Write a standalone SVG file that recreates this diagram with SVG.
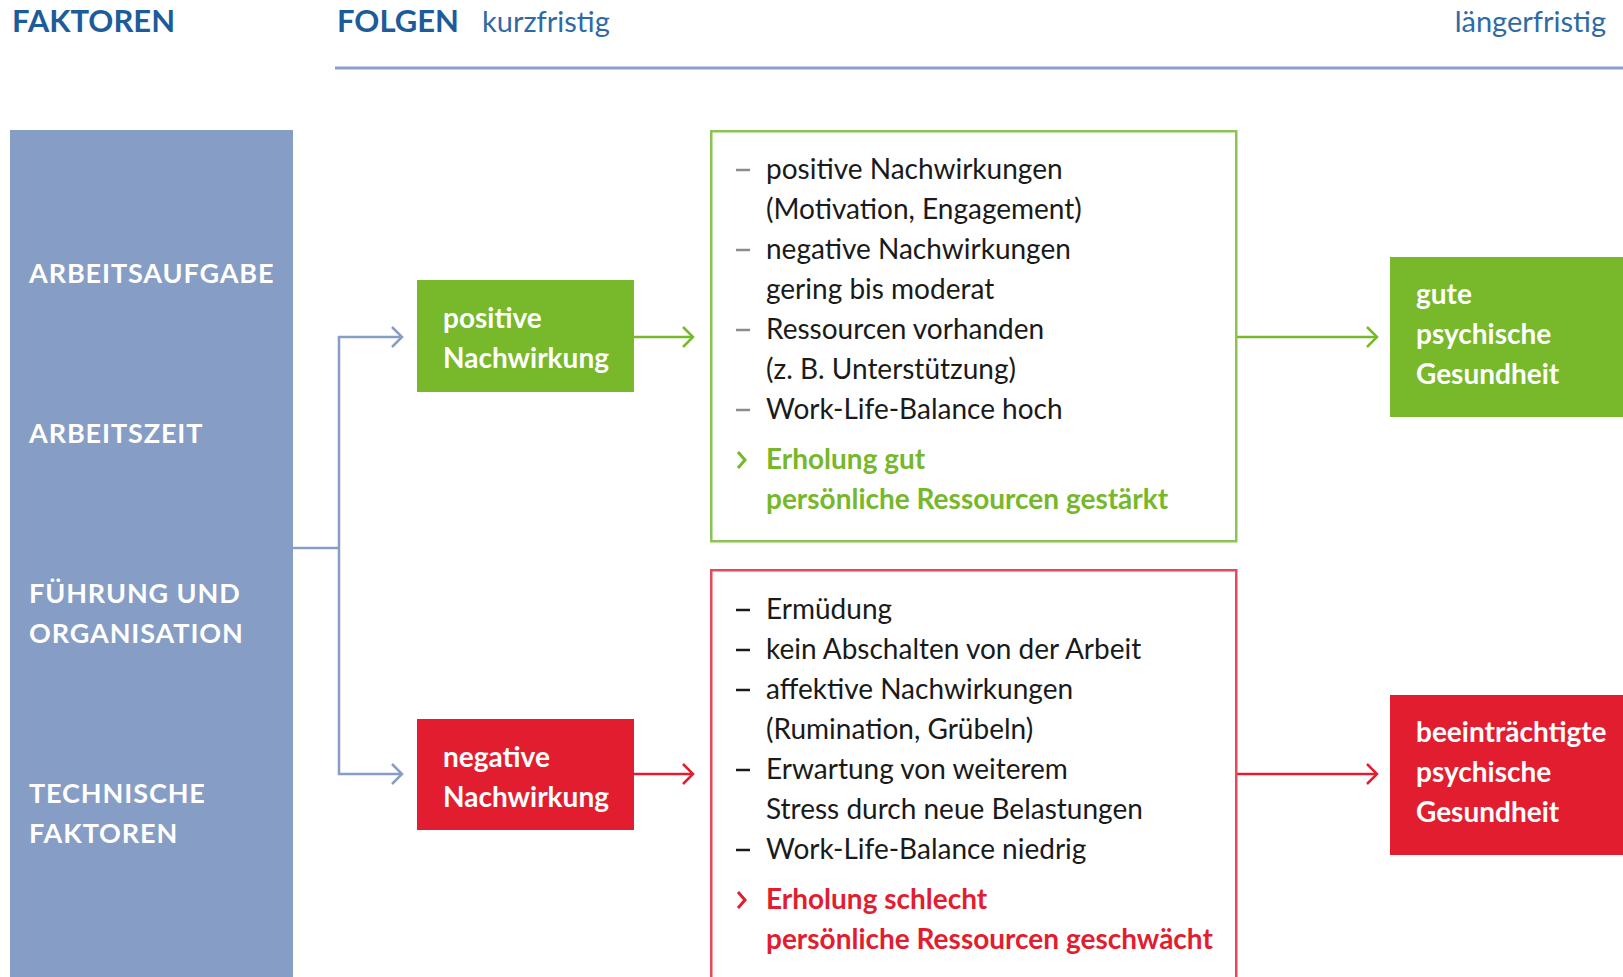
<svg xmlns="http://www.w3.org/2000/svg" width="1623" height="977" viewBox="0 0 1623 977">
<style>
text{font-family:Lato,"Open Sans","Liberation Sans",sans-serif}
.hd{font-size:31px;font-weight:bold;fill:#1d5c98}
.hs{font-size:29px;fill:#2f6aa6}
.pl{font-size:27px;font-weight:bold;fill:#ffffff;letter-spacing:0.9px}
.bx{font-size:28px;font-weight:bold;fill:#ffffff}
.li{font-size:28px;fill:#1a1a1a}
.dg{stroke:#8c8c8c;stroke-width:2.5}
.dr{stroke:#1a1a1a;stroke-width:2.5}
.gt{font-size:28px;font-weight:bold;fill:#76b82a}
.rt{font-size:28px;font-weight:bold;fill:#e31d30}
.cb{fill:none;stroke:#869dc6;stroke-width:2.5}
.cg{fill:none;stroke:#78b82b;stroke-width:2.5}
.cr{fill:none;stroke:#e31d30;stroke-width:2.5}
</style>
<defs>
<marker id="ab" viewBox="0 0 14 24" refX="12" refY="12" markerWidth="14" markerHeight="24" markerUnits="userSpaceOnUse" orient="auto"><path d="M2,2 L12,12 L2,22" fill="none" stroke="#869dc6" stroke-width="2.5"/></marker>
<marker id="ag" viewBox="0 0 14 24" refX="12" refY="12" markerWidth="14" markerHeight="24" markerUnits="userSpaceOnUse" orient="auto"><path d="M2,2 L12,12 L2,22" fill="none" stroke="#78b82b" stroke-width="2.5"/></marker>
<marker id="ar" viewBox="0 0 14 24" refX="12" refY="12" markerWidth="14" markerHeight="24" markerUnits="userSpaceOnUse" orient="auto"><path d="M2,2 L12,12 L2,22" fill="none" stroke="#e31d30" stroke-width="2.5"/></marker>
</defs>
<rect width="1623" height="977" fill="#ffffff"/>

<g id="header">
<text class="hd" x="12" y="32">FAKTOREN</text>
<text class="hd" x="337" y="32">FOLGEN</text>
<text class="hs" x="482" y="32">kurzfristig</text>
<text class="hs" x="1606" y="32" text-anchor="end">längerfristig</text>
<line x1="335" y1="68" x2="1623" y2="68" stroke="#8a9fc9" stroke-width="3"/>
</g>

<g id="faktoren">
<rect x="10" y="130" width="283" height="847" fill="#869dc6"/>
<text class="pl" x="29" y="283">ARBEITSAUFGABE</text>
<text class="pl" x="29" y="443">ARBEITSZEIT</text>
<text class="pl" x="29" y="603">FÜHRUNG UND</text>
<text class="pl" x="29" y="643">ORGANISATION</text>
<text class="pl" x="29" y="803">TECHNISCHE</text>
<text class="pl" x="29" y="843">FAKTOREN</text>
</g>

<g id="connectors">
<path class="cb" d="M293,548 H339"/>
<path class="cb" d="M339,548 V337 H402" marker-end="url(#ab)"/>
<path class="cb" d="M339,548 V774 H402" marker-end="url(#ab)"/>
<path class="cg" d="M634,337 H693" marker-end="url(#ag)"/>
<path class="cr" d="M634,774 H693" marker-end="url(#ar)"/>
<path class="cg" d="M1236,337 H1377" marker-end="url(#ag)"/>
<path class="cr" d="M1236,774 H1377" marker-end="url(#ar)"/>
</g>

<g id="positive-nachwirkung">
<rect x="417" y="280" width="217" height="112" fill="#78b82b"/>
<text class="bx" x="443" y="328">positive</text>
<text class="bx" x="443" y="368">Nachwirkung</text>
</g>

<g id="negative-nachwirkung">
<rect x="417" y="719" width="217" height="111" fill="#e31d30"/>
<text class="bx" x="443" y="767">negative</text>
<text class="bx" x="443" y="807">Nachwirkung</text>
</g>

<g id="folgen-positiv">
<rect x="711.25" y="131.25" width="525" height="410" fill="none" stroke="#8cc453" stroke-width="2.5"/>
<line class="dg" x1="736" y1="170" x2="750" y2="170"/>
<text class="li" x="766" y="179">positive Nachwirkungen</text>
<text class="li" x="766" y="219">(Motivation, Engagement)</text>
<line class="dg" x1="736" y1="250" x2="750" y2="250"/>
<text class="li" x="766" y="259">negative Nachwirkungen</text>
<text class="li" x="766" y="299">gering bis moderat</text>
<line class="dg" x1="736" y1="330" x2="750" y2="330"/>
<text class="li" x="766" y="339">Ressourcen vorhanden</text>
<text class="li" x="766" y="379">(z. B. Unterstützung)</text>
<line class="dg" x1="736" y1="410" x2="750" y2="410"/>
<text class="li" x="766" y="419">Work-Life-Balance hoch</text>
<path d="M738,452 L745,460 L738,468" fill="none" stroke="#76b82a" stroke-width="3"/>
<text class="gt" x="766" y="469">Erholung gut</text>
<text class="gt" x="766" y="509">persönliche Ressourcen gestärkt</text>
</g>

<g id="folgen-negativ">
<rect x="711.25" y="570.25" width="525" height="410" fill="none" stroke="#e8495a" stroke-width="2.5"/>
<line class="dr" x1="736" y1="610" x2="750" y2="610"/>
<text class="li" x="766" y="619">Ermüdung</text>
<line class="dr" x1="736" y1="650" x2="750" y2="650"/>
<text class="li" x="766" y="659">kein Abschalten von der Arbeit</text>
<line class="dr" x1="736" y1="690" x2="750" y2="690"/>
<text class="li" x="766" y="699">affektive Nachwirkungen</text>
<text class="li" x="766" y="739">(Rumination, Grübeln)</text>
<line class="dr" x1="736" y1="770" x2="750" y2="770"/>
<text class="li" x="766" y="779">Erwartung von weiterem</text>
<text class="li" x="766" y="819">Stress durch neue Belastungen</text>
<line class="dr" x1="736" y1="850" x2="750" y2="850"/>
<text class="li" x="766" y="859">Work-Life-Balance niedrig</text>
<path d="M738,892 L745,900 L738,908" fill="none" stroke="#e31d30" stroke-width="3"/>
<text class="rt" x="766" y="909">Erholung schlecht</text>
<text class="rt" x="766" y="949">persönliche Ressourcen geschwächt</text>
</g>

<g id="gute-gesundheit">
<rect x="1390" y="257" width="233" height="160" fill="#78b82b"/>
<text class="bx" x="1416" y="304">gute</text>
<text class="bx" x="1416" y="344">psychische</text>
<text class="bx" x="1416" y="384">Gesundheit</text>
</g>

<g id="beeintraechtigte-gesundheit">
<rect x="1390" y="695" width="233" height="160" fill="#e31d30"/>
<text class="bx" x="1416" y="742">beeinträchtigte</text>
<text class="bx" x="1416" y="782">psychische</text>
<text class="bx" x="1416" y="822">Gesundheit</text>
</g>
</svg>
